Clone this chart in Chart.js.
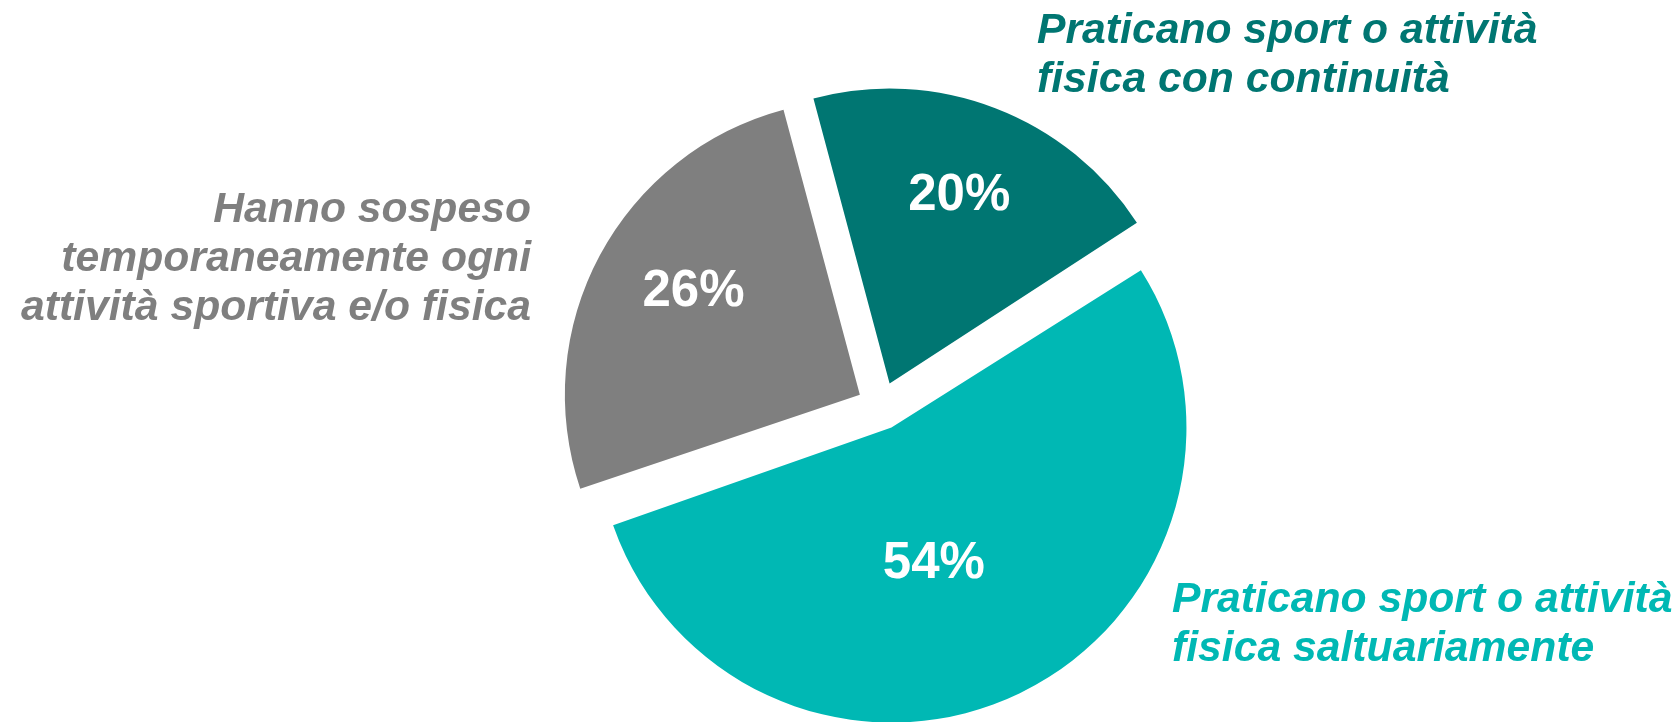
<!DOCTYPE html>
<html>
<head>
<meta charset="utf-8">
<script src="https://cdn.jsdelivr.net/npm/chart.js@4"></script>
<style>
  body { margin: 0; background: #fff; }
  #wrap { width: 1675px; height: 722px; position: relative; }
</style>
</head>
<body>
<div id="wrap"><canvas id="pie-chart"></canvas></div>
<script>
// Data
const categories = [
  ["Praticano sport o attività", "fisica con continuità"],
  ["Praticano sport o attività", "fisica saltuariamente"],
  ["Hanno sospeso", "temporaneamente ogni", "attività sportiva e/o fisica"],
];
const shares = [20, 54, 26];
const sliceColors = ["#007672", "#00B8B4", "#7F7F7F"];

// where the category text sits (x, first baseline, align)
const textSpots = [
  { x: 1037, y: 43, align: "left" },
  { x: 1172, y: 612, align: "left" },
  { x: 531, y: 222, align: "right" },
];
// percentage label: fraction of radius from slice tip, angle tweak (deg)
const pctSpots = [
  { r: 0.69, da: -1 },
  { r: 0.47, da: 8 },
  { r: 0.67, da: 4.5 },
];

// keep every exploded slice at the same radius (Chart.js grows big slices)
const evenRadius = {
  id: "evenRadius",
  beforeDatasetDraw(chart, args) {
    const meta = args.meta;
    const base = meta.controller.outerRadius;
    meta.data.forEach((arc) => {
      const o = (arc.options.offset || 0) / 4;
      const fix = 1 - Math.sin(Math.min(Math.PI, arc.circumference));
      arc.outerRadius = base - o * fix;
    });
  },
};

const pieLabels = {
  id: "pieLabels",
  afterDraw(chart) {
    const ctx = chart.ctx;
    const meta = chart.getDatasetMeta(0);
    ctx.save();
    // percentages
    ctx.fillStyle = "#fff";
    ctx.font = "bold 51px 'Liberation Sans', Arial, sans-serif";
    ctx.textAlign = "center";
    ctx.textBaseline = "middle";
    meta.data.forEach((arc, i) => {
      const mid = (arc.startAngle + arc.endAngle) / 2;
      const t = (arc.options.offset || 0) / 4;
      const cx = arc.x + Math.cos(mid) * t;
      const cy = arc.y + Math.sin(mid) * t;
      const a = mid + (pctSpots[i].da * Math.PI) / 180;
      const d = pctSpots[i].r * meta.controller.outerRadius;
      ctx.fillText(shares[i] + "%", cx + Math.cos(a) * d, cy + Math.sin(a) * d + 4);
    });
    // category texts
    ctx.font = "italic bold 42.7px 'Liberation Sans', Arial, sans-serif";
    ctx.textBaseline = "alphabetic";
    categories.forEach((lines, i) => {
      const s = textSpots[i];
      ctx.fillStyle = sliceColors[i];
      ctx.textAlign = s.align;
      lines.forEach((line, j) => ctx.fillText(line, s.x, s.y + j * 49));
    });
    ctx.restore();
  },
};

const pieCtx = document.getElementById("pie-chart").getContext("2d");
new Chart(pieCtx, {
  type: "pie",
  data: {
    labels: categories.map((c) => c.join(" ")),
    datasets: [
      {
        data: shares,
        backgroundColor: sliceColors,
        borderWidth: 0,
        offset: 96,
      },
    ],
  },
  options: {
    responsive: true,
    maintainAspectRatio: false,
    animation: false,
    rotation: -15,
    radius: 295,
    layout: { padding: { left: 87, top: 90, right: 0, bottom: 0 } },
    plugins: {
      legend: { display: false },
      tooltip: { enabled: false },
    },
  },
  plugins: [evenRadius, pieLabels],
});
</script>
</body>
</html>
